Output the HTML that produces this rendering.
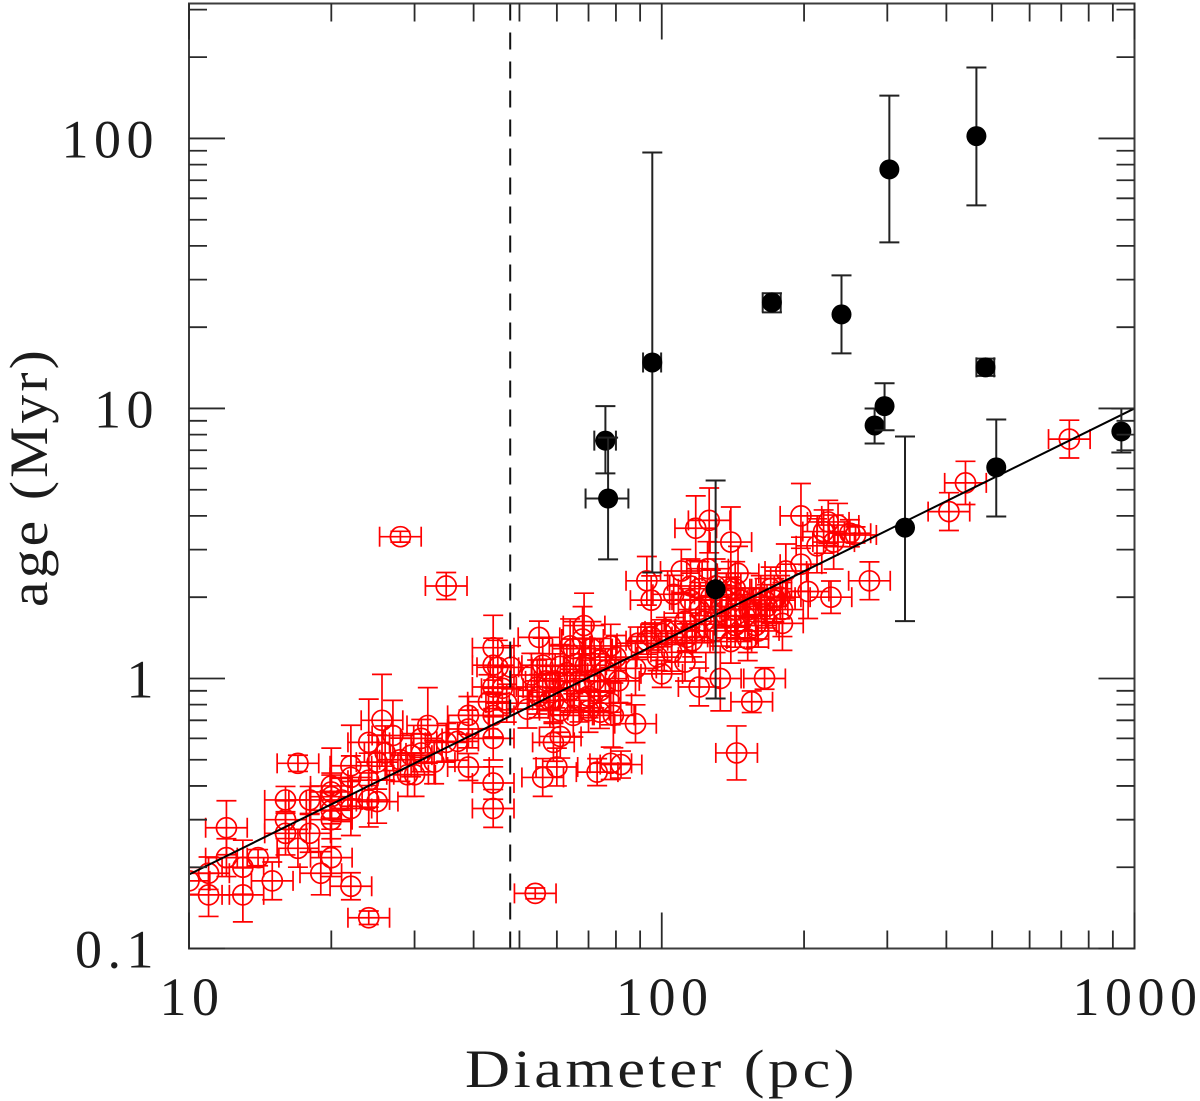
<!DOCTYPE html>
<html lang="en">
<head>
<meta charset="utf-8">
<title>Age versus diameter</title>
<style>
html,body{margin:0;padding:0;background:#fff;width:1200px;height:1101px;overflow:hidden}
svg{display:block;filter:blur(0.35px)}
text{font-family:"Liberation Serif",serif;fill:#1c1c1c;font-size:54px}
</style>
</head>
<body>
<svg id="chart" xmlns="http://www.w3.org/2000/svg" width="1200" height="1101" viewBox="0 0 1200 1101">
  <defs>
    <clipPath id="plot-clip"><rect x="189" y="3.5" width="945.5" height="945"/></clipPath>
  </defs>
  <rect x="0" y="0" width="1200" height="1101" fill="#fff"/>
  <g id="red-layer" clip-path="url(#plot-clip)"></g>
  <g id="fit-layer"></g>
  <g id="black-layer"></g>
  <g id="axis-layer"></g>
  <text x="465" y="1087" letter-spacing="3" textLength="393" lengthAdjust="spacingAndGlyphs">Diameter (pc)</text>
  <text transform="translate(47,607) rotate(-90)" x="0" y="0" letter-spacing="3" textLength="260" lengthAdjust="spacingAndGlyphs">age (Myr)</text>
</svg>
<script>
// ---- chart data ----
const xTickLabels = [10, 100, 1000];
const yTickLabels = [0.1, 1, 10, 100];
const minorMultipliers = [2, 3, 4, 5, 6, 7, 8, 9];

const fitDiameter = [10, 1000];
const fitAge = [0.188, 10];
const limitDiameter = 47.8;

// Red series: diameter (pc), age (Myr), age error (dex)
const redDiameter = [
  10,11,11,12,12,13,13,14,15,16,
  16,16,17,17,18,18,19,20,20,20,
  20,20,20,22,22,22,22,21,24,24,
  24,24,25,25.6,27,26,25,28,29.5,29,
  30,31,31,32,33,35,39,39,37,39,
  44,44,44,44,43,44,46,45,44,48,
  47,35,28,54,44,52,55,53,56,54.5,
  59.5,59,61,60,56,73,78,82,88,79,
  78,74,67,68.5,64,68,78,80,88,89,
  100,98,105,112,120,133,165,155,144,93,
  95,106,110,145,61,65,71,74,64,58,
  67,74,81,70,61,65,55,72,63,69,
  57,59,76,70,118,126,140,125,115,143,
  115,120,127,134,140,147,153,162,123,130,
  137,143,150,158,118,112,120,130,137,143,
  167,173,170,95,100,93,102,107,113,116,
  140,152,152,160,180,180,178,173,165,183,
  197,204,228,275,197,213,225,220,231,236,
  250,257,405,439,728
];
const redAge = [
  .178,.19,.158,.28,.217,.2,.158,.217,.178,.355,
  .3,.267,.485,.235,.355,.267,.19,.4,.38,.365,
  .325,.3,.217,.17,.475,.43,.33,.355,.13,.58,
  .42,.355,.35,.7,.615,.53,.49,.5,.52,.44,
  .44,.6,.53,.67,.49,.58,.73,.65,.585,.47,
  .6,.41,.33,.93,.82,.73,.92,1.1,1.3,1.1,
  .81,2.2,3.35,.16,1.12,.77,1.42,1.03,1.12,.93,
  .98,.58,.61,.47,.43,.45,.485,.48,.68,.73,
  .81,.75,.83,1.57,1.32,1.4,1.32,1.2,1.09,1.35,
  1.04,1.2,1.25,1.15,.93,1,1,.82,.53,2.3,
  1.95,2.05,2.5,2.45,1.11,1.29,1.29,1.17,.9,.83,
  .98,.9,.98,.76,.76,.73,.86,.98,1.05,1.12,
  .98,.83,1.07,.86,3.6,3.85,3.2,2.55,2.2,2.15,
  1.95,1.8,2,1.85,2.15,1.95,1.8,2,1.63,1.5,
  1.7,1.57,1.7,1.57,1.5,1.63,2.15,2.2,1.95,1.8,
  1.85,1.95,2.15,1.43,1.47,1.38,1.5,1.5,1.42,1.38,
  1.37,1.4,1.5,1.5,1.6,1.8,2,2,1.95,2.5,
  2.65,2.1,2,2.3,4,3.1,3.8,3.5,3.2,3.7,
  3.45,3.4,4.15,5.3,7.7
];
const redAgeErrDex = [
  .05,.06,.08,.1,.07,.1,.1,.03,.07,.05,
  .07,.08,.03,.07,.05,.07,.08,.14,.07,.08,
  .07,.1,.07,.05,.15,.08,.1,.08,.025,.16,
  .1,.1,.08,.17,.13,.1,.1,.08,.08,.08,
  .08,.07,.07,.14,.08,.07,.07,.07,.07,.05,
  .08,.06,.07,.08,.1,.08,.08,.1,.12,.08,
  .07,.05,.02,.02,.1,.07,.06,.08,.1,.1,
  .1,.07,.08,.07,.07,.05,.06,.05,.07,.12,
  .08,.06,.08,.12,.1,.12,.08,.08,.1,.06,
  .05,.05,.07,.07,.07,.12,.04,.04,.1,.09,
  .09,.07,.08,.1,.08,.1,.1,.08,.08,.1,
  .1,.08,.08,.08,.08,.08,.08,.1,.1,.1,
  .08,.08,.08,.08,.12,.12,.13,.1,.1,.1,
  .1,.1,.1,.08,.1,.1,.08,.08,.08,.08,
  .08,.08,.08,.08,.08,.08,.1,.1,.1,.08,
  .08,.08,.08,.05,.05,.05,.05,.05,.05,.06,
  .08,.08,.08,.06,.1,.1,.08,.08,.08,.1,
  .1,.1,.06,.07,.12,.1,.08,.08,.1,.08,
  .05,.03,.07,.08,.07
];
const redDiameterErrDex = 0.044;

// Black series: diameter (pc) with error, age (Myr) with upper and lower limits
const blackDiameter = [76, 77, 95.5, 130, 171, 240, 282, 296, 303, 327, 463, 484, 510, 938];
const blackDiameterErr = [4, 8, 4.2, 0, 7.5, 0, 0, 0, 0, 0, 0, 21, 0, 0];
const blackAge = [7.6, 4.64, 14.8, 2.14, 24.7, 22.3, 8.65, 10.2, 76.8, 3.62, 102, 14.2, 6.05, 8.22];
const blackAgeHigh = [10.2, 7.8, 88.7, 5.41, 26.7, 31.1, 10, 12.4, 144, 7.87, 183, 15.3, 9.1, 10];
const blackAgeLow = [5.75, 2.76, 2.47, 0.843, 22.7, 16, 7.42, 8.3, 41.2, 1.63, 56.5, 13.2, 3.98, 6.87];

// ---- axis functions ----
const PLOT = {left: 189, right: 1134.5, top: 3.5, bottom: 948.5};
const X_MIN = 10, X_MAX = 1000, Y_MIN = 0.1, Y_MAX = 316;
const NS = 'http://www.w3.org/2000/svg';

function xScale(v) {
  return PLOT.left + (Math.log10(v) - Math.log10(X_MIN)) / (Math.log10(X_MAX) - Math.log10(X_MIN)) * (PLOT.right - PLOT.left);
}
function yScale(v) {
  return PLOT.bottom - (Math.log10(v) - Math.log10(Y_MIN)) / (Math.log10(Y_MAX) - Math.log10(Y_MIN)) * (PLOT.bottom - PLOT.top);
}
function drawLine(parent, x1, y1, x2, y2, stroke, width, name) {
  const el = document.createElementNS(NS, 'line');
  el.setAttribute('x1', x1);
  el.setAttribute('y1', y1);
  el.setAttribute('x2', x2);
  el.setAttribute('y2', y2);
  el.setAttribute('stroke', stroke);
  el.setAttribute('stroke-width', width);
  
  
  parent.appendChild(el);
  return el;
}

// ---- red series ----
const redLayer = document.getElementById('red-layer');
const RED = '#ff0000', RED_W = 1.7, RED_CAP = 10, RED_R = 10;
redDiameter.forEach(function (d, i) {
  const g = document.createElementNS(NS, 'g');
  
  
  redLayer.appendChild(g);
  const cx = xScale(d), cy = yScale(redAge[i]);
  const xa = xScale(d / Math.pow(10, redDiameterErrDex));
  const xb = xScale(d * Math.pow(10, redDiameterErrDex));
  const ya = yScale(redAge[i] * Math.pow(10, redAgeErrDex[i]));
  const yb = yScale(redAge[i] / Math.pow(10, redAgeErrDex[i]));
  drawLine(g, xa, cy, xb, cy, RED, RED_W, 'red-x-error-bar');
  drawLine(g, xa, cy - RED_CAP, xa, cy + RED_CAP, RED, RED_W, 'red-x-error-cap');
  drawLine(g, xb, cy - RED_CAP, xb, cy + RED_CAP, RED, RED_W, 'red-x-error-cap');
  drawLine(g, cx, ya, cx, yb, RED, RED_W, 'red-y-error-bar');
  drawLine(g, cx - RED_CAP, ya, cx + RED_CAP, ya, RED, RED_W, 'red-y-error-cap');
  drawLine(g, cx - RED_CAP, yb, cx + RED_CAP, yb, RED, RED_W, 'red-y-error-cap');
  const c = document.createElementNS(NS, 'circle');
  c.setAttribute('cx', cx);
  c.setAttribute('cy', cy);
  c.setAttribute('r', RED_R);
  c.setAttribute('fill', 'none');
  c.setAttribute('stroke', RED);
  c.setAttribute('stroke-width', RED_W);
  
  
  g.appendChild(c);
});

// ---- fit line and vertical limit ----
const fitLayer = document.getElementById('fit-layer');
drawLine(fitLayer, xScale(fitDiameter[0]), yScale(fitAge[0]), xScale(fitDiameter[1]), yScale(fitAge[1]), '#000', 2, 'fit-line');
const limit = drawLine(fitLayer, xScale(limitDiameter), PLOT.top, xScale(limitDiameter), PLOT.bottom, '#111', 2, 'limit-dashed-line');
limit.setAttribute('stroke-dasharray', '17 12');

// ---- black series ----
const blackLayer = document.getElementById('black-layer');
const BLACK_W = 2, BLACK_CAP = 10;
blackDiameter.forEach(function (d, i) {
  const g = document.createElementNS(NS, 'g');
  
  
  blackLayer.appendChild(g);
  const cx = xScale(d), cy = yScale(blackAge[i]);
  const ya = yScale(blackAgeHigh[i]), yb = yScale(blackAgeLow[i]);
  drawLine(g, cx, ya, cx, yb, '#222', BLACK_W, 'black-y-error-bar');
  drawLine(g, cx - BLACK_CAP, ya, cx + BLACK_CAP, ya, '#222', BLACK_W, 'black-y-error-cap');
  drawLine(g, cx - BLACK_CAP, yb, cx + BLACK_CAP, yb, '#222', BLACK_W, 'black-y-error-cap');
  if (blackDiameterErr[i] > 0) {
    const xa = xScale(d - blackDiameterErr[i]), xb = xScale(d + blackDiameterErr[i]);
    drawLine(g, xa, cy, xb, cy, '#222', BLACK_W, 'black-x-error-bar');
    drawLine(g, xa, cy - BLACK_CAP, xa, cy + BLACK_CAP, '#222', BLACK_W, 'black-x-error-cap');
    drawLine(g, xb, cy - BLACK_CAP, xb, cy + BLACK_CAP, '#222', BLACK_W, 'black-x-error-cap');
  }
  const c = document.createElementNS(NS, 'circle');
  c.setAttribute('cx', cx);
  c.setAttribute('cy', cy);
  c.setAttribute('r', 10);
  c.setAttribute('fill', '#000');
  
  
  g.appendChild(c);
});

// ---- axes ----
const axisLayer = document.getElementById('axis-layer');
const MAJOR = 36, MINOR = 18, TICK = '#2a2a2a', TICK_W = 1.8;

const frame = document.createElementNS(NS, 'rect');
frame.setAttribute('x', PLOT.left);
frame.setAttribute('y', PLOT.top);
frame.setAttribute('width', PLOT.right - PLOT.left);
frame.setAttribute('height', PLOT.bottom - PLOT.top);
frame.setAttribute('fill', 'none');
frame.setAttribute('stroke', '#3c3c3c');
frame.setAttribute('stroke-width', 2);


axisLayer.appendChild(frame);

function xTick(v, len, name) {
  const x = xScale(v);
  drawLine(axisLayer, x, PLOT.bottom, x, PLOT.bottom - len, TICK, TICK_W, name);
  drawLine(axisLayer, x, PLOT.top, x, PLOT.top + len, TICK, TICK_W, name);
}
function yTick(v, len, name) {
  const y = yScale(v);
  drawLine(axisLayer, PLOT.left, y, PLOT.left + len, y, TICK, TICK_W, name);
  drawLine(axisLayer, PLOT.right, y, PLOT.right - len, y, TICK, TICK_W, name);
}

xTickLabels.forEach(function (v, i) {
  xTick(v, MAJOR, 'x-major-tick');
  if (i < xTickLabels.length - 1) {
    minorMultipliers.forEach(function (m) {
      xTick(v * m, MINOR, 'x-minor-tick');
    });
  }
  const t = document.createElementNS(NS, 'text');
  t.setAttribute('x', xScale(v) + 3);
  t.setAttribute('y', 1015);
  t.setAttribute('text-anchor', 'middle');
  t.setAttribute('letter-spacing', '5.5');
  
  
  t.textContent = String(v);
  axisLayer.appendChild(t);
});

yTickLabels.forEach(function (v) {
  yTick(v, MAJOR, 'y-major-tick');
  minorMultipliers.forEach(function (m) {
    if (v * m <= Y_MAX) {
      yTick(v * m, MINOR, 'y-minor-tick');
    }
  });
  const t = document.createElementNS(NS, 'text');
  t.setAttribute('x', 159);
  t.setAttribute('y', yScale(v) + 19);
  t.setAttribute('text-anchor', 'end');
  t.setAttribute('letter-spacing', '5.5');
  
  
  t.textContent = String(v);
  axisLayer.appendChild(t);
});
</script>
</body>
</html>
